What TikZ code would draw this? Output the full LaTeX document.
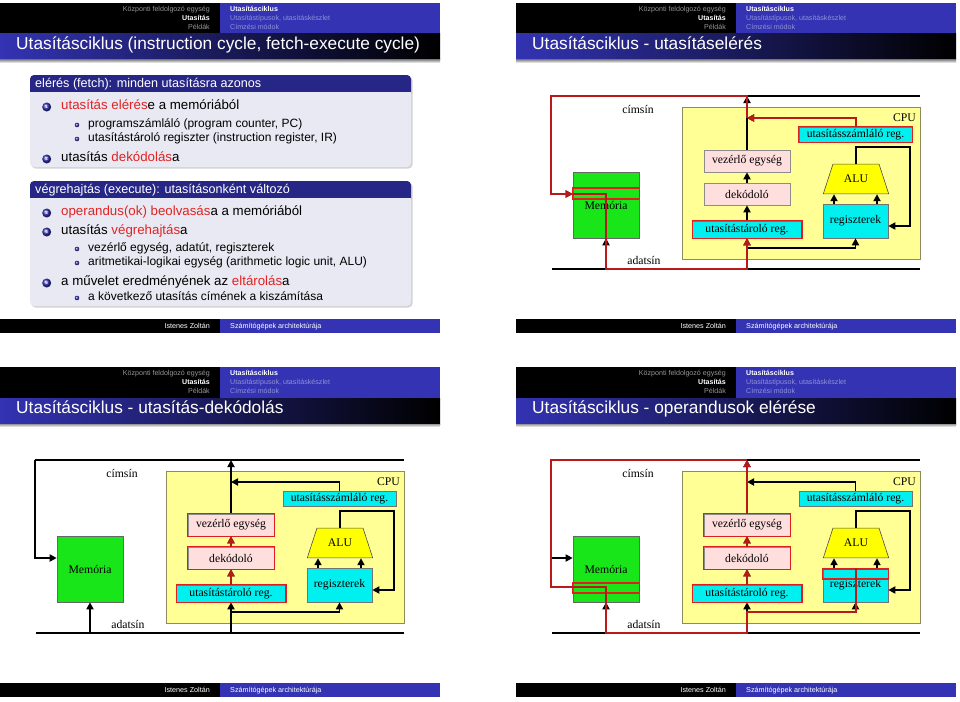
\documentclass[tikz,border=0pt]{standalone}
\usepackage{fontspec}
\setmainfont{Liberation Sans}
\newfontfamily\figfont{Liberation Serif}
\usetikzlibrary{arrows.meta,positioning,shapes.geometric,shadows}
\definecolor{structblue}{RGB}{51,51,179}
\definecolor{blocktitle}{RGB}{38,38,134}
\definecolor{blockbody}{RGB}{233,233,243}
\definecolor{hdgrey}{RGB}{150,150,150}
\definecolor{hdfaint}{RGB}{145,145,215}
\definecolor{alertred}{RGB}{225,35,35}
\definecolor{cpuyellow}{RGB}{255,255,150}
\definecolor{cpuedge}{RGB}{140,140,95}
\definecolor{memgreen}{RGB}{25,230,25}
\definecolor{regcyan}{RGB}{0,240,240}
\definecolor{ctlpink}{RGB}{255,222,222}
\definecolor{aluyellow}{RGB}{255,255,0}
\definecolor{pathred}{RGB}{185,25,25}
\definecolor{boxred}{RGB}{225,30,30}
\newcommand{\hdsize}{\fontsize{7.1}{8.5}\selectfont}
\newcommand{\alrt}[1]{\textcolor{alertred}{#1}}

% header, title bar and footer of one slide
\newcommand{\slideframe}[1]{%
  \fill[black] (0,0) rectangle (220,31);
  \fill[structblue] (220,0) rectangle (440,31);
  \node[hdtext,anchor=mid east,text=hdgrey] (hsect) at (210,6) {Központi feldolgozó egység};
  \node[hdtext,anchor=mid east,text=white,font=\hdsize\bfseries] (hsecu) at (210,15) {Utasítás};
  \node[hdtext,anchor=mid east,text=hdgrey] (hsecp) at (210,24) {Példák};
  \node[hdtext,anchor=mid west,text=white,font=\hdsize\bfseries] (hsubc) at (230,6) {Utasításciklus};
  \node[hdtext,anchor=mid west,text=hdfaint] (hsubt) at (230,15) {Utasítástípusok, utasításkészlet};
  \node[hdtext,anchor=mid west,text=hdfaint] (hsubm) at (230,24) {Címzési módok};
  \shade[left color=structblue,right color=black] (0,31) rectangle (440,57);
  \shade[top color=black!40,bottom color=white] (0,57) rectangle (440,60);
  \node[titletext] (ftitle) at (16,44) {#1};
  \fill[black] (0,316) rectangle (220,330);
  \fill[structblue] (220,316) rectangle (440,330);
  \node[fttext,anchor=mid east] (fauth) at (210,323) {Istenes Zoltán};
  \node[fttext,anchor=mid west] (fcrs) at (230,323) {Számítógépek architektúrája};
}

% memory, buses and CPU
\newcommand{\cpudiagram}{%
  \node[figtext,draw=cpuedge,fill=cpuyellow,line width=0.8pt,minimum width=238pt,minimum height=152pt] (cpu) at (285,180) {};
  \node[figtext,anchor=mid east] (cpulbl) at (400,116) {CPU};
  \node[regbox,minimum width=113pt,minimum height=15pt] (pc) at (339.5,131.5) {utasításszámláló reg.};
  \node[ctlbox] (ctl) at (231,158) {vezérlő egység};
  \node[ctlbox] (dec) at (231,191) {dekódoló};
  \node[regbox,minimum width=109pt,minimum height=17pt] (ir) at (231,226.5) {utasítástároló reg.};
  \node[alubox] (alu) at (340,176) {ALU};
  \node[regbox,minimum width=65pt,minimum height=34pt] (reg) at (339.5,218) {regiszterek};
  \node[figtext,draw=black!60,fill=memgreen,line width=0.6pt,minimum size=66pt] (mem) at (90,202) {Memória};
  \node[figtext] (lbladdr) at (122,106) {címsín};
  \node[figtext] (lbldata) at (128,257) {adatsín};
  \coordinate (tbl) at (35,93);
  \coordinate (tbr) at (404,93);
  \coordinate (bbl) at (36,266);
  \coordinate (bbr) at (404,266);
  \coordinate (pcj) at (231,115);
  \coordinate (dj) at (231,245);
  \coordinate (aluc) at (394,144);
  \coordinate (memin) at ([yshift=11pt]mem.west);
  \draw[bus] (tbl) -- (tbr);
  \draw[bus] (bbl) -- (bbr);
  \draw[arr] (tbl) |- (memin);
  \draw[arr] (mem.south |- bbl) -- (mem.south);
  \draw[arr] (ir.south |- bbl) -- (ir.south);
  \draw[arr] (ir) -- (dec);
  \draw[arr] (dec) -- (ctl);
  \draw[arr] (ctl) -- (ctl.north |- tbl);
  \draw[arr] (pc) |- (pcj);
  \draw[arr] (dj) -| (reg);
  \draw[arr] ([xshift=-21.5pt]reg.north) -- ([xshift=-21.5pt]reg.north |- alu.south);
  \draw[arr] ([xshift=21.5pt]reg.north) -- ([xshift=21.5pt]reg.north |- alu.south);
  \draw[arr] (alu.north) |- (aluc) |- ([yshift=-5pt]reg.east);
}

\begin{document}
\begin{tikzpicture}[x=1pt,y=-1pt,>={Triangle[length=7pt,width=7pt]},
  hdtext/.style={inner sep=0,font=\hdsize},
  titletext/.style={anchor=mid west,inner sep=0,text=white,font=\fontsize{17.3}{20}\selectfont},
  fttext/.style={inner sep=0,text=white,font=\fontsize{7.2}{8.5}\selectfont},
  blocktext/.style={anchor=base west,inner sep=0,text=white,font=\fontsize{12.6}{15}\selectfont},
  itemtext/.style={anchor=mid west,inner sep=0,font=\fontsize{13.3}{15}\selectfont},
  subtext/.style={anchor=mid west,inner sep=0,font=\fontsize{12}{14}\selectfont},
  numball/.style={circle,inner sep=0,minimum size=9pt,ball color=structblue,text=white,font=\fontsize{4.5}{5}\selectfont\bfseries},
  subball/.style={circle,inner sep=0,minimum size=4.6pt,ball color=structblue},
  figtext/.style={inner sep=0,font=\figfont\fontsize{11.7}{13}\selectfont},
  regbox/.style={figtext,draw=black!55,fill=regcyan,line width=0.6pt},
  ctlbox/.style={figtext,draw=black!45,fill=ctlpink,line width=0.6pt,minimum width=86pt,minimum height=22pt},
  alubox/.style={figtext,trapezium,trapezium angle=72,draw=black!70,fill=aluyellow,line width=0.6pt,inner xsep=11pt,inner ysep=11pt},
  bus/.style={line width=1.8pt},
  arr/.style={bus,->},
  hlbox/.style={draw=boxred,line width=1.4pt},
  hlline/.style={draw=pathred,line width=2pt},
  hlarr/.style={hlline,->}]
\useasboundingbox (0,0) rectangle (960,701);

% slide 1: the instruction cycle
\begin{scope}[shift={(0,3)}]
\slideframe{Utasításciklus (instruction cycle, fetch-execute cycle)}
\fill[blockbody,rounded corners=4pt,drop shadow={opacity=0.35,shadow xshift=1.5pt,shadow yshift=-1.5pt}] (30,72) rectangle (411,164);
\fill[blocktitle,rounded corners=4pt] (30,72) rectangle (411,94);
\fill[blockbody] (30,88.5) rectangle (411,96);
\node[blocktext] (fetchttl) at (35,84.5) {elérés (fetch): minden utasításra azonos};
\node[numball] (n1) at (46.7,104) {1};
\node[itemtext] (i1) at (61,104) {\alrt{utasítás elérés}e a memóriából};
\node[subball] (s1) at (77,122) {};
\node[subtext] (j1) at (88,122) {programszámláló (program counter, PC)};
\node[subball] (s2) at (77,136) {};
\node[subtext] (j2) at (88,136) {utasítástároló regiszter (instruction register, IR)};
\node[numball] (n2) at (46.7,156) {2};
\node[itemtext] (i2) at (61,156) {utasítás \alrt{dekódolás}a};
\fill[blockbody,rounded corners=4pt,drop shadow={opacity=0.35,shadow xshift=1.5pt,shadow yshift=-1.5pt}] (30,178) rectangle (411,303);
\fill[blocktitle,rounded corners=4pt] (30,178) rectangle (411,200);
\fill[blockbody] (30,194.5) rectangle (411,202);
\node[blocktext] (execttl) at (35,190.5) {végrehajtás (execute): utasításonként változó};
\node[numball] (n3) at (46.7,210) {3};
\node[itemtext] (i3) at (61,210) {\alrt{operandus(ok) beolvasás}a a memóriából};
\node[numball] (n4) at (46.7,229) {4};
\node[itemtext] (i4) at (61,229) {utasítás \alrt{végrehajtás}a};
\node[subball] (s3) at (77,246) {};
\node[subtext] (j3) at (88,246) {vezérlő egység, adatút, regiszterek};
\node[subball] (s4) at (77,260) {};
\node[subtext] (j4) at (88,260) {aritmetikai-logikai egység (arithmetic logic unit, ALU)};
\node[numball] (n5) at (46.7,280) {5};
\node[itemtext] (i5) at (61,280) {a művelet eredményének az \alrt{eltárolás}a};
\node[subball] (s5) at (77,295) {};
\node[subtext] (j5) at (88,295) {a következő utasítás címének a kiszámítása};
\end{scope}

% slide 2: fetch
\begin{scope}[shift={(516,3)}]
\slideframe{Utasításciklus - utasításelérés}
\cpudiagram
\draw[hlbox] (pc.south west) rectangle (pc.north east);
\draw[hlbox] (ir.south west) rectangle (ir.north east);
\draw[hlbox] ([yshift=17pt]mem.west) rectangle ([yshift=6pt]mem.east);
\draw[hlarr] (pc) |- (pcj);
\draw[hlarr] (pcj) -- (ctl.north |- tbl) -- (tbl) |- (memin);
\draw[hlarr] (memin) -| (mem.south |- bbl) -| (ir.south);
\end{scope}

% slide 3: decode
\begin{scope}[shift={(0,367)}]
\slideframe{Utasításciklus - utasítás-dekódolás}
\cpudiagram
\draw[hlbox] (ctl.south west) rectangle (ctl.north east);
\draw[hlbox] (dec.south west) rectangle (dec.north east);
\draw[hlbox] (ir.south west) rectangle (ir.north east);
\draw[hlarr] (ir) -- (dec);
\draw[hlarr] (dec) -- (ctl);
\end{scope}

% slide 4: operand fetch
\begin{scope}[shift={(516,367)}]
\slideframe{Utasításciklus - operandusok elérése}
\cpudiagram
\draw[hlbox] (ctl.south west) rectangle (ctl.north east);
\draw[hlbox] (dec.south west) rectangle (dec.north east);
\draw[hlbox] (ir.south west) rectangle (ir.north east);
\draw[hlbox] ([yshift=-14pt]mem.west) rectangle ([yshift=-24pt]mem.east);
\draw[hlbox] ([yshift=16pt]reg.west) rectangle ([yshift=6pt]reg.east);
\draw[hlarr] (ir) -- (dec);
\draw[hlarr] (dec) -- (ctl);
\draw[hlarr] (ctl) -- (ctl.north |- tbl);
\draw[hlline] (ctl.north |- tbl) -- (tbl) |- ([yshift=-18pt]mem.west) -| (mem.south |- bbl) -| (dj) -| (reg.north);
\end{scope}
\end{tikzpicture}
\end{document}
